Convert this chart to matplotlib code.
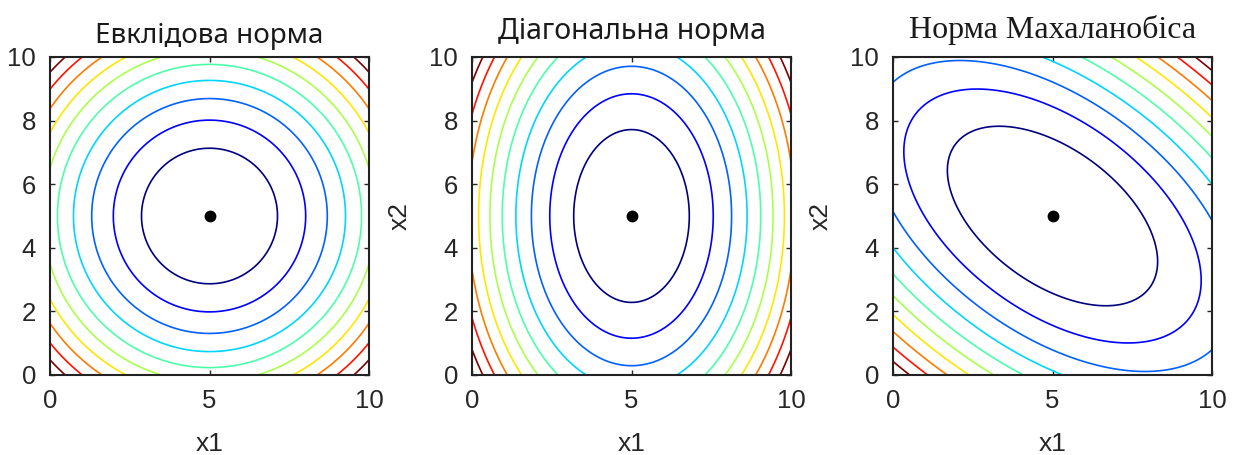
import numpy as np
import matplotlib
matplotlib.use("Agg")
import matplotlib.pyplot as plt

# ---- data ----
center = [5.0, 5.0]
x_range = [0.0, 10.0]
grid_step = 0.1
diag_variances = [1.0, 2.25]
mahal_cov = [[1.84, -0.80], [-0.80, 1.35]]
n_levels = 10
x_ticks = [0, 5, 10]
y_ticks = [0, 2, 4, 6, 8, 10]
titles = ["Евклідова норма", "Діагональна норма", "Норма Махаланобіса"]
xlabel = "x1"
ylabels = ["", "x2", "x2"]

# ---- surfaces ----
g = np.arange(x_range[0], x_range[1] + grid_step / 2, grid_step)
X, Y = np.meshgrid(g, g)
DX, DY = X - center[0], Y - center[1]

Z_eucl = DX ** 2 + DY ** 2
Z_diag = DX ** 2 / diag_variances[0] + DY ** 2 / diag_variances[1]
A = np.linalg.inv(np.array(mahal_cov))
Z_mahal = A[0, 0] * DX ** 2 + 2 * A[0, 1] * DX * DY + A[1, 1] * DY ** 2
surfaces = [Z_eucl, Z_diag, Z_mahal]

fig = plt.figure(figsize=(12.37, 4.55), dpi=100)
W, H = 1237, 455
lefts = [50, 472, 893]
ax_w, ax_h = 319, 318
ax_top = 57

title_fonts = [dict(family=["Noto Sans", "DejaVu Sans"], size=20),
               dict(family=["Noto Sans", "DejaVu Sans"], size=20.5),
               dict(family=["Liberation Serif", "DejaVu Serif"], size=23)]
title_pads = [10, 13, 14]

cols = plt.cm.jet(np.linspace(0, 1, n_levels))
tick_col = "#262626"

for i, Z in enumerate(surfaces):
    ax = fig.add_axes([lefts[i] / W, 1 - (ax_top + ax_h) / H, ax_w / W, ax_h / H])
    levels = np.linspace(Z.min(), Z.max(), n_levels + 2)[1:-1]
    ax.contour(X, Y, Z, levels=levels, colors=cols, linewidths=1.2)
    ax.plot([center[0]], [center[1]], "o", color="black", markersize=7.5)
    ax.set_xlim(x_range)
    ax.set_ylim(x_range)
    ax.set_xticks(x_ticks)
    ax.set_yticks(y_ticks)
    ax.tick_params(direction="in", length=3.5, width=1, top=True, right=True,
                   labelsize=18.5, colors=tick_col, pad=10)
    for lab in ax.get_xticklabels() + ax.get_yticklabels():
        lab.set_family(["Liberation Sans", "DejaVu Sans"])
    for s in ax.spines.values():
        s.set_linewidth(1.5)
        s.set_color("#222222")
    ax.set_title(titles[i], fontdict=title_fonts[i], pad=title_pads[i], color="#1a1a1a")
    ax.set_xlabel(xlabel, fontsize=19, family=["Liberation Sans", "DejaVu Sans"],
                  color=tick_col, labelpad=14)
    if ylabels[i]:
        ax.set_ylabel(ylabels[i], fontsize=19, family=["Liberation Sans", "DejaVu Sans"],
                      color=tick_col, labelpad=13)

fig.savefig("out.png", dpi=100)
